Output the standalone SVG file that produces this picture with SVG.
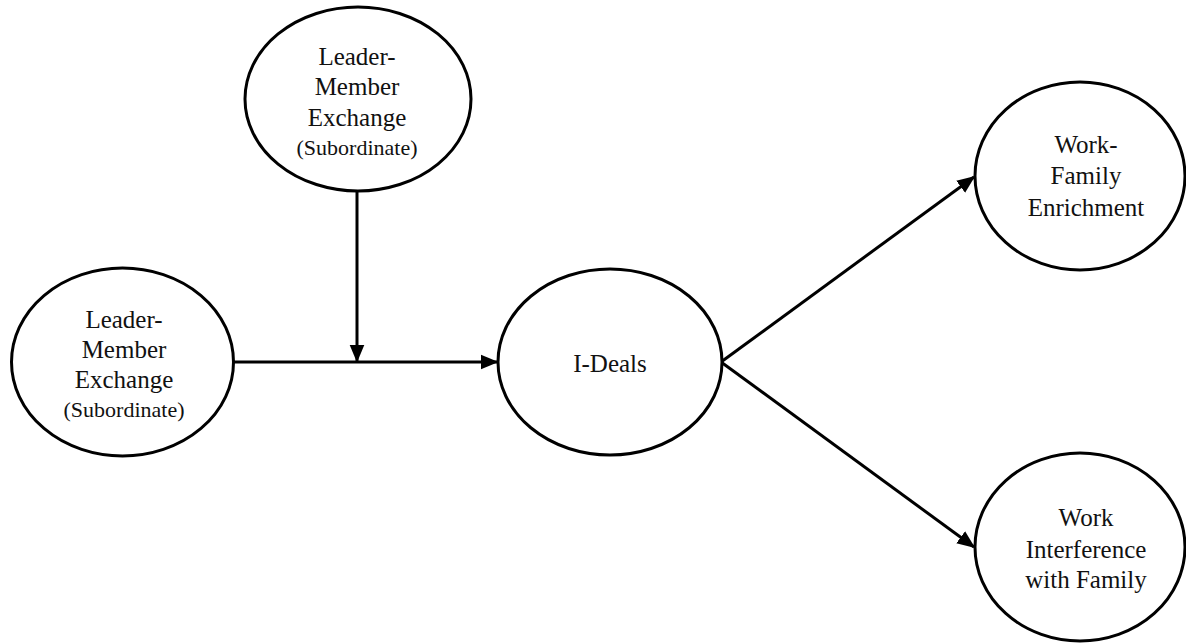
<svg xmlns="http://www.w3.org/2000/svg" width="1186" height="644" viewBox="0 0 1186 644">
<style>
.node ellipse{fill:#fff;stroke:#000;stroke-width:3}
.t{font-family:"Liberation Serif","Times New Roman",serif;font-size:25px;fill:#111;text-anchor:middle}
.s{font-size:22px}
.edge{stroke:#000;stroke-width:3;fill:none;marker-end:url(#ah)}
</style>
<defs>
<marker id="ah" markerWidth="6" markerHeight="6" refX="5.5" refY="2.5" orient="auto" markerUnits="strokeWidth" viewBox="0 0 6 5">
<path d="M0,0 L6,2.5 L0,5 Z" fill="#000"/>
</marker>
</defs>
<rect width="1186" height="644" fill="#fff"/>
<g id="connectors">
<line class="edge" x1="357" y1="192" x2="357" y2="361"/>
<line class="edge" x1="233" y1="362" x2="497" y2="362"/>
<line class="edge" x1="721" y1="362" x2="974" y2="177"/>
<line class="edge" x1="721" y1="362" x2="974" y2="547"/>
</g>
<g id="lmx-top" class="node">
<ellipse cx="358" cy="99" rx="113" ry="92"/>
<text class="t" x="357" y="65">Leader-</text>
<text class="t" x="357" y="95">Member</text>
<text class="t" x="357" y="126">Exchange</text>
<text class="t s" x="357" y="155">(Subordinate)</text>
</g>
<g id="lmx-left" class="node">
<ellipse cx="122.5" cy="362" rx="111" ry="94"/>
<text class="t" x="124" y="328">Leader-</text>
<text class="t" x="124" y="358">Member</text>
<text class="t" x="124" y="388">Exchange</text>
<text class="t s" x="124" y="417">(Subordinate)</text>
</g>
<g id="ideals" class="node">
<ellipse cx="610" cy="362" rx="112" ry="93"/>
<text class="t" x="610" y="372">I-Deals</text>
</g>
<g id="wfe" class="node">
<ellipse cx="1080" cy="176" rx="105" ry="94"/>
<text class="t" x="1086" y="153">Work-</text>
<text class="t" x="1086" y="184">Family</text>
<text class="t" x="1086" y="216">Enrichment</text>
</g>
<g id="wif" class="node">
<ellipse cx="1080" cy="547" rx="105" ry="94"/>
<text class="t" x="1086" y="526">Work</text>
<text class="t" x="1086" y="558">Interference</text>
<text class="t" x="1086" y="588">with Family</text>
</g>
</svg>
